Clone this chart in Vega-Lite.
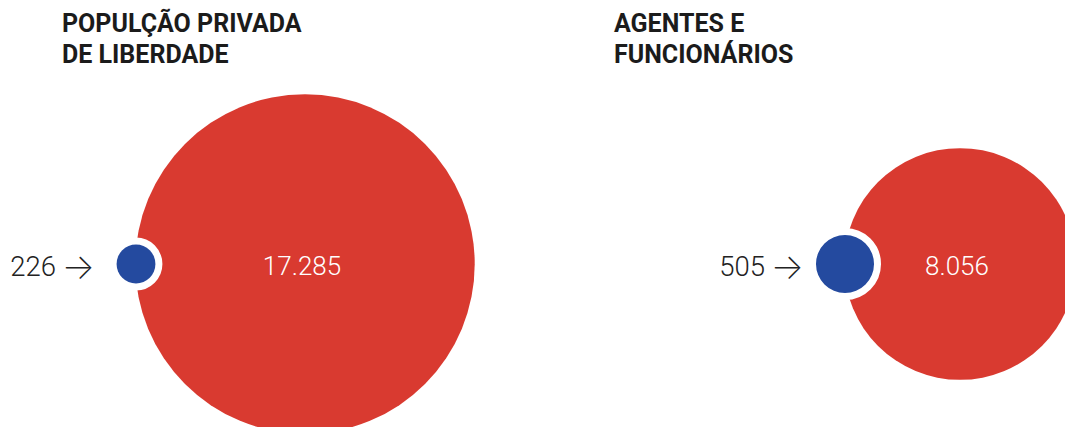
{
  "$schema": "https://vega.github.io/schema/vega-lite/v6.json",
  "width": 1065,
  "height": 427,
  "autosize": {"type": "none"},
  "padding": 0,
  "background": "white",
  "config": {
    "view": {"stroke": null},
    "locale": {"number": {"decimal": ",", "thousands": ".", "grouping": [3], "currency": ["R$ ", ""]}}
  },
  "data": {
    "values": [
      {"panel": "pop", "title": ["POPULÇÃO PRIVADA", "DE LIBERDADE"], "total": 17285, "deaths": 226},
      {"panel": "agents", "title": ["AGENTES E", "FUNCIONÁRIOS"], "total": 8056, "deaths": 505}
    ]
  },
  "resolve": {"scale": {"x": "independent"}},
  "layer": [
    {
      "mark": {"type": "text", "align": "left", "baseline": "alphabetic", "fontSize": 25, "fontWeight": "bold", "font": "Roboto", "lineHeight": 31, "color": "#1b1b1b"},
      "encoding": {
        "x": {"field": "panel", "type": "nominal", "scale": {"type": "point", "padding": 0, "domain": ["pop", "agents"], "range": [62, 614]}, "axis": null},
        "y": {"datum": "title", "type": "nominal", "scale": {"type": "point", "padding": 0, "domain": ["title", "circle"], "range": [32, 264]}, "axis": null},
        "text": {"field": "title"}
      }
    },
    {
      "mark": {"type": "point", "shape": "circle", "filled": true, "fill": "#D93A30", "strokeWidth": 0, "opacity": 1},
      "encoding": {
        "x": {"field": "panel", "type": "nominal", "scale": {"type": "point", "padding": 0, "domain": ["pop", "agents"], "range": [305, 960]}, "axis": null},
        "y": {"datum": "circle", "type": "nominal"},
        "size": {"field": "total", "type": "quantitative", "scale": {"type": "linear", "domain": [0, 17285], "range": [0, 115233], "zero": true}, "legend": null}
      }
    },
    {
      "mark": {"type": "text", "align": "center", "baseline": "alphabetic", "dy": 10.5, "fontSize": 26, "fontWeight": 300, "font": "Roboto", "color": "white"},
      "encoding": {
        "x": {"field": "panel", "type": "nominal", "scale": {"type": "point", "padding": 0, "domain": ["pop", "agents"], "range": [302, 957]}, "axis": null},
        "y": {"datum": "circle", "type": "nominal"},
        "text": {"field": "total", "type": "quantitative", "format": ",d"}
      }
    },
    {
      "mark": {"type": "point", "shape": "circle", "filled": true, "fill": "white", "stroke": "white", "strokeWidth": 14, "opacity": 1},
      "encoding": {
        "x": {"field": "panel", "type": "nominal", "scale": {"type": "point", "padding": 0, "domain": ["pop", "agents"], "range": [136, 845]}, "axis": null},
        "y": {"datum": "circle", "type": "nominal"},
        "size": {"field": "deaths", "type": "quantitative", "legend": null}
      }
    },
    {
      "mark": {"type": "point", "shape": "circle", "filled": true, "fill": "#244A9F", "strokeWidth": 0, "opacity": 1},
      "encoding": {
        "x": {"field": "panel", "type": "nominal", "scale": {"type": "point", "padding": 0, "domain": ["pop", "agents"], "range": [136, 845]}, "axis": null},
        "y": {"datum": "circle", "type": "nominal"},
        "size": {"field": "deaths", "type": "quantitative", "legend": null}
      }
    },
    {
      "mark": {"type": "text", "align": "right", "baseline": "alphabetic", "dx": -80, "dy": 12, "fontSize": 27.5, "fontWeight": 300, "font": "Roboto", "color": "#222222"},
      "encoding": {
        "x": {"field": "panel", "type": "nominal", "scale": {"type": "point", "padding": 0, "domain": ["pop", "agents"], "range": [136, 845]}, "axis": null},
        "y": {"datum": "circle", "type": "nominal"},
        "text": {"field": "deaths", "type": "quantitative", "format": "d"}
      }
    },
    {
      "mark": {"type": "text", "align": "right", "baseline": "alphabetic", "dx": -41, "dy": 15, "fontSize": 35, "fontWeight": 200, "font": "Inter", "color": "#222222"},
      "encoding": {
        "x": {"field": "panel", "type": "nominal", "scale": {"type": "point", "padding": 0, "domain": ["pop", "agents"], "range": [136, 845]}, "axis": null},
        "y": {"datum": "circle", "type": "nominal"},
        "text": {"value": "→"}
      }
    }
  ]
}
